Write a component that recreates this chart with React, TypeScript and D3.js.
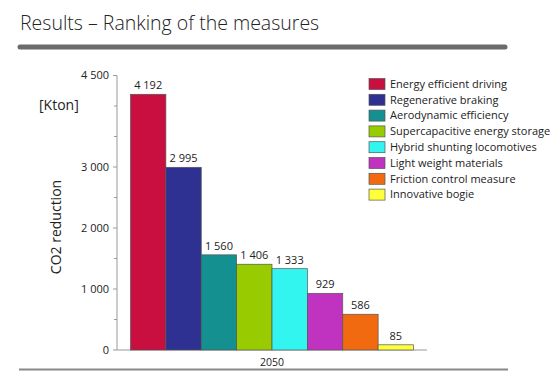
import React from "react";
import * as d3 from "d3";

const measures = [
  "Energy efficient driving",
  "Regenerative braking",
  "Aerodynamic efficiency",
  "Supercapacitive energy storage",
  "Hybrid shunting locomotives",
  "Light weight materials",
  "Friction control measure",
  "Innovative bogie",
];
const values = [4192, 2995, 1560, 1406, 1333, 929, 586, 85];
const valueLabels = ["4 192", "2 995", "1 560", "1 406", "1 333", "929", "586", "85"];
const colors = ["#C80F3F", "#2E3192", "#159090", "#99CC00", "#33F5F0", "#C032C0", "#F26A10", "#FFFF3A"];
const majorTicks = [0, 1000, 2000, 3000, 4500];
const majorTickLabels = ["0", "1 000", "2 000", "3 000", "4 500"];
const minorTicks = [500, 1500, 2500, 3500, 4000];
const category = "2050";

export default function App() {
  const W = 550, H = 381;
  const font = "'Open Sans', 'Noto Sans', sans-serif";
  const y = d3.scaleLinear().domain([0, 4500]).range([350, 75.5]);
  const x = d3.scaleBand().domain(measures).range([130.5, 413.5]).paddingInner(0);
  const axisX = 117;
  return (
    <svg width={W} height={H} style={{ position: "absolute", left: 0, top: 0 }} fontFamily={font}>
      <rect width={W} height={H} fill="#fff" />
      <text x={20} y={30} fontSize={19.5} fill="#222" fontWeight={300}>Results – Ranking of the measures</text>
      <line x1={20} x2={505} y1={47} y2={47} stroke="#6b6b6b" strokeWidth={5} strokeLinecap="round" />
      {/* axis */}
      <line x1={axisX} x2={axisX} y1={y(4500)} y2={y(0)} stroke="#999" strokeWidth={1} />
      <line x1={axisX} x2={427} y1={y(0)} y2={y(0)} stroke="#999" strokeWidth={1} />
      {majorTicks.map((t, i) => (
        <g key={t}>
          <line x1={axisX - 4} x2={axisX} y1={y(t)} y2={y(t)} stroke="#999" />
          <text x={axisX - 8} y={y(t)} dy="0.35em" textAnchor="end" fontSize={11} fill="#222">{majorTickLabels[i]}</text>
        </g>
      ))}
      {minorTicks.map((t) => (
        <line key={t} x1={axisX - 3} x2={axisX} y1={y(t)} y2={y(t)} stroke="#999" />
      ))}
      {measures.map((m, i) => (
        <g key={m}>
          <rect x={x(m)} y={y(values[i])} width={x.bandwidth()} height={y(0) - y(values[i])} fill={colors[i]} stroke="#555" strokeWidth={0.7} />
          <text x={(x(m) as number) + x.bandwidth() / 2} y={y(values[i]) - 5} textAnchor="middle" fontSize={11} fill="#222">{valueLabels[i]}</text>
        </g>
      ))}
      <text x={(130.5 + 413.5) / 2} y={366} textAnchor="middle" fontSize={10.5} fill="#222">{category}</text>
      <line x1={19} x2={508} y1={369.5} y2={369.5} stroke="#888" strokeWidth={1.8} />
      <text x={39} y={110} fontSize={14} fill="#222">[Kton]</text>
      <text transform="translate(61,227) rotate(-90)" textAnchor="middle" fontSize={14} fill="#222">CO2 reduction</text>
      {measures.map((m, i) => (
        <g key={m} transform={`translate(369,${84 + i * 15.8})`}>
          <rect x={0} y={-5.5} width={16} height={11} fill={colors[i]} stroke="#555" strokeWidth={0.7} />
          <text x={21} y={0} dy="0.35em" fontSize={11} fill="#222">{m}</text>
        </g>
      ))}
    </svg>
  );
}
